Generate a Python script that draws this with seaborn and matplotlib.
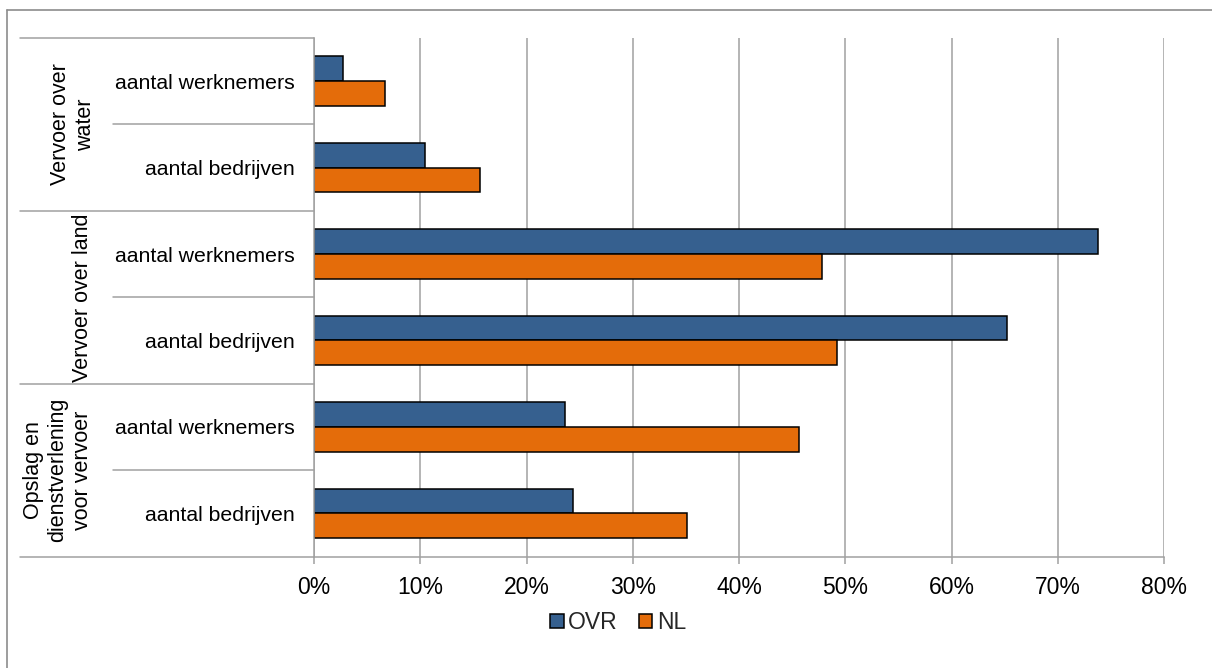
import matplotlib
matplotlib.use("Agg")
import matplotlib.pyplot as plt
import matplotlib.transforms as mtransforms
from matplotlib.patches import Patch
import seaborn as sns
import pandas as pd

# ---- data ----
groups = ["Vervoer over\nwater", "Vervoer over land", "Opslag en\ndienstverlening\nvoor vervoer"]
subcats = ["aantal werknemers", "aantal bedrijven"]
series = ["OVR", "NL"]
ovr = [2.7, 10.4, 73.8, 65.2, 23.6, 24.4]
nl = [6.7, 15.6, 47.8, 49.2, 45.6, 35.1]
xticks = [0, 10, 20, 30, 40, 50, 60, 70, 80]
colors = ["#36608F", "#E46C0A"]

keys = [f"{g}|{s}" for g in groups for s in subcats]
df = pd.DataFrame({
    "key": keys * 2,
    "value": ovr + nl,
    "series": [series[0]] * len(keys) + [series[1]] * len(keys),
})

sns.set_theme(style="white")
plt.rcParams["font.family"] = ["Liberation Sans", "DejaVu Sans"]

W, H = 1212, 668
fig = plt.figure(figsize=(W / 100, H / 100), dpi=100)
ax_l, ax_r, ax_t, ax_b = 314, 1164, 38, 556.5
ax = fig.add_axes([ax_l / W, 1 - ax_b / H, (ax_r - ax_l) / W, (ax_b - ax_t) / H])

sns.barplot(data=df, x="value", y="key", hue="series", order=keys, hue_order=series,
            palette=colors, saturation=1, orient="h", width=0.572, gap=0, ax=ax,
            edgecolor="black", linewidth=1.1, legend=False, errorbar=None)

ax.set_xlim(0, 80)
ax.set_ylim(len(keys) - 0.5, -0.5)
ax.set_xticks(xticks)
ax.set_xticklabels([f"{v}%" for v in xticks], fontsize=16.5, color="black")
ax.set_yticks(range(len(keys)))
ax.set_yticklabels([k.split("|")[1] for k in keys], fontsize=15.3, color="black")
ax.set_xlabel("")
ax.set_ylabel("")
grid_c = "#A0A0A0"
ax.grid(axis="x", color=grid_c, linewidth=1.1)
ax.grid(axis="y", visible=False)
ax.set_axisbelow(True)
for s in ["top", "right"]:
    ax.spines[s].set_visible(False)
for s in ["left", "bottom"]:
    ax.spines[s].set_color(grid_c)
    ax.spines[s].set_linewidth(1.1)
ax.tick_params(axis="x", length=5, width=1.1, color=grid_c, pad=9, bottom=True)
ax.tick_params(axis="y", length=0, pad=13.7)

tr = mtransforms.blended_transform_factory(ax.transAxes, ax.transData)
x_long = (20 - ax_l) / (ax_r - ax_l)
x_inner = (113 - ax_l) / (ax_r - ax_l)
for yb in [-0.5, 1.5, 3.5, 5.5]:
    ax.plot([x_long, 0], [yb, yb], color=grid_c, lw=1.1, transform=tr, clip_on=False)
for yb in [0.5, 2.5, 4.5]:
    ax.plot([x_inner, 0], [yb, yb], color=grid_c, lw=1.1, transform=tr, clip_on=False)

label_px = [73, 82.5, 58]
for i, g in enumerate(groups):
    ax.text((label_px[i] - ax_l) / (ax_r - ax_l), 2 * i + 0.5, g, transform=tr,
            rotation=90, ha="center", va="center", multialignment="center",
            fontsize=15.5, color="black", linespacing=1.22)

# outer frame lines
fig.add_artist(plt.Line2D([7 / W, 7 / W], [0, 1 - 10 / H], color="#8C8C8C", lw=1.2))
fig.add_artist(plt.Line2D([7 / W, 1], [1 - 10 / H, 1 - 10 / H], color="#8C8C8C", lw=1.2))

handles = [Patch(facecolor=c, edgecolor="black", linewidth=1.1) for c in colors]
fig.legend(handles, series, loc="center", bbox_to_anchor=(618 / W, 1 - 622.5 / H),
           ncol=2, frameon=False, fontsize=16.5, handlelength=0.6, handleheight=0.6,
           handletextpad=0.2, columnspacing=0.9, borderaxespad=0)

fig.savefig("out.png", dpi=100)
